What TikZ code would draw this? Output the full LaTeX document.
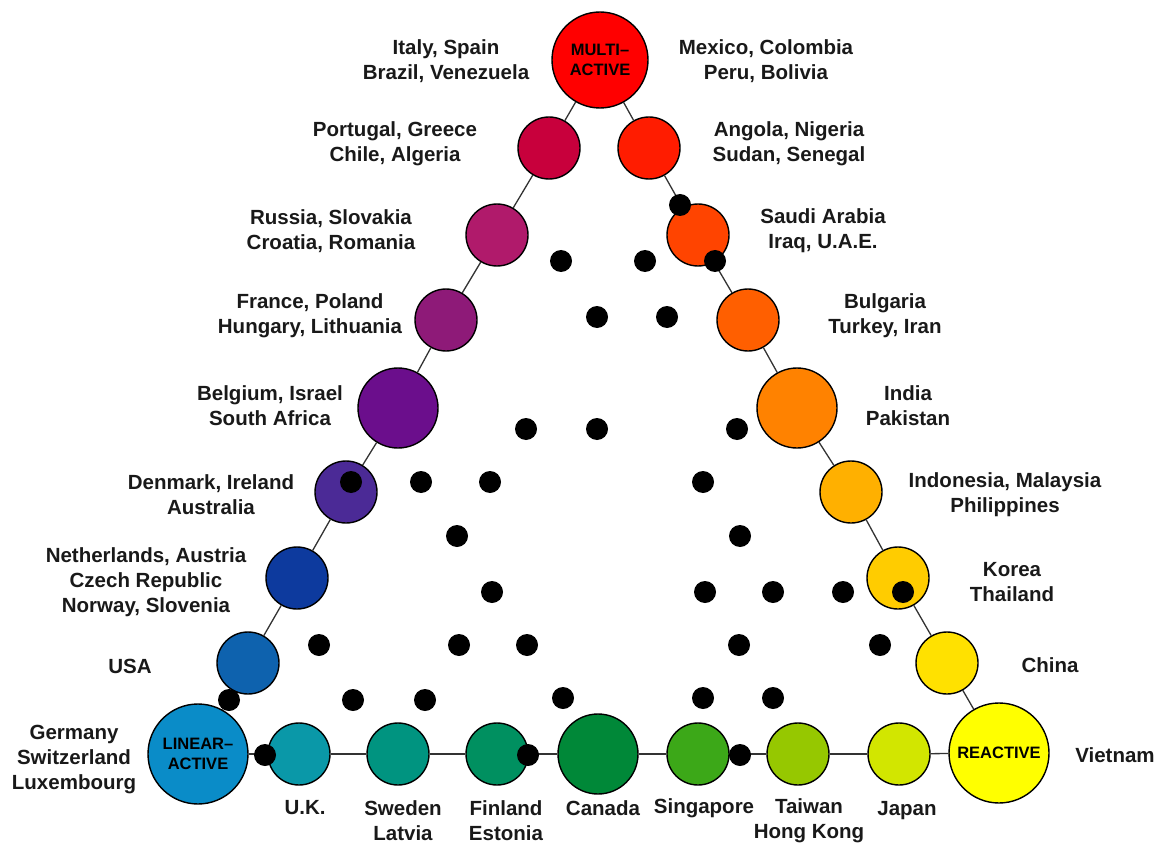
\documentclass[tikz,border=0pt]{standalone}
\usepackage{fontspec}
\setmainfont{Liberation Sans}
\begin{document}
\begin{tikzpicture}[x=1pt,y=-1pt,
  ball/.style={circle,draw=black,line width=1.4pt,inner sep=0pt,minimum size=62pt},
  bigball/.style={ball,minimum size=80pt},
  hub/.style={ball,minimum size=100pt,font=\bfseries\fontsize{16.5}{20}\selectfont,align=center},
  dot/.style={circle,fill=black,inner sep=0pt,minimum size=22pt},
  lab/.style={align=center,font=\bfseries\fontsize{20.5}{25}\selectfont,inner sep=0pt,text=black!90},
  link/.style={line width=1.3pt,draw=black!80}]
\useasboundingbox (0,0) rectangle (1161,850);
% colours
\definecolor{cMulti}{RGB}{255,0,0}
\definecolor{cPor}{RGB}{200,0,60}
\definecolor{cAng}{RGB}{255,28,0}
\definecolor{cRus}{RGB}{176,26,107}
\definecolor{cSau}{RGB}{255,68,0}
\definecolor{cFra}{RGB}{142,26,120}
\definecolor{cBul}{RGB}{255,95,0}
\definecolor{cBel}{RGB}{107,14,140}
\definecolor{cInd}{RGB}{255,130,0}
\definecolor{cDen}{RGB}{75,42,150}
\definecolor{cIdn}{RGB}{255,176,0}
\definecolor{cNet}{RGB}{13,58,158}
\definecolor{cKor}{RGB}{255,204,0}
\definecolor{cUSA}{RGB}{14,98,174}
\definecolor{cChi}{RGB}{255,225,0}
\definecolor{cLin}{RGB}{10,140,200}
\definecolor{cRea}{RGB}{255,255,0}
\definecolor{cUK}{RGB}{10,152,168}
\definecolor{cSwe}{RGB}{0,148,128}
\definecolor{cFin}{RGB}{0,144,96}
\definecolor{cCan}{RGB}{0,136,56}
\definecolor{cSin}{RGB}{60,168,24}
\definecolor{cTai}{RGB}{150,200,0}
\definecolor{cJap}{RGB}{210,230,0}
% circles
\node[hub,fill=cMulti,minimum size=96pt] (multi) at (600,60) {MULTI--\\ACTIVE};
\node[ball,fill=cPor] (por) at (549,148) {};
\node[ball,fill=cRus] (rus) at (497,235) {};
\node[ball,fill=cFra] (fra) at (446,320) {};
\node[bigball,fill=cBel] (bel) at (398,408) {};
\node[ball,fill=cDen] (den) at (346,492) {};
\node[ball,fill=cNet] (net) at (297,578) {};
\node[ball,fill=cUSA] (usa) at (248,663) {};
\node[hub,fill=cLin] (lin) at (198,754) {LINEAR--\\ACTIVE};
\node[ball,fill=cAng] (ang) at (649,148) {};
\node[ball,fill=cSau] (sau) at (698,235) {};
\node[ball,fill=cBul] (bul) at (748,320) {};
\node[bigball,fill=cInd] (ind) at (797,408) {};
\node[ball,fill=cIdn] (idn) at (851,492) {};
\node[ball,fill=cKor] (kor) at (898,578) {};
\node[ball,fill=cChi] (chi) at (947,663) {};
\node[hub,fill=cRea] (rea) at (999,753) {REACTIVE};
\node[ball,fill=cUK] (uk) at (299,754) {};
\node[ball,fill=cSwe] (swe) at (398,754) {};
\node[ball,fill=cFin] (fin) at (497,754) {};
\node[bigball,fill=cCan] (can) at (598,754) {};
\node[ball,fill=cSin] (sin) at (698,754) {};
\node[ball,fill=cTai] (tai) at (798,754) {};
\node[ball,fill=cJap] (jap) at (899,754) {};
% connectors
\foreach \a/\b in {multi/por,por/rus,rus/fra,fra/bel,bel/den,den/net,net/usa,usa/lin,
  multi/ang,ang/sau,sau/bul,bul/ind,ind/idn,idn/kor,kor/chi,chi/rea,
  lin/uk,uk/swe,swe/fin,fin/can,can/sin,sin/tai,tai/jap,jap/rea}
  \draw[link] (\a) -- (\b);
% labels
\node[lab] (l1) at (446,61) {Italy, Spain\\Brazil, Venezuela};
\node[lab] (r1) at (766,61) {Mexico, Colombia\\Peru, Bolivia};
\node[lab] (l2) at (395,144) {Portugal, Greece\\Chile, Algeria};
\node[lab] (r2) at (789,144) {Angola, Nigeria\\Sudan, Senegal};
\node[lab] (l3) at (331,231) {Russia, Slovakia\\Croatia, Romania};
\node[lab] (r3) at (823,231) {Saudi Arabia\\Iraq, U.A.E.};
\node[lab] (l4) at (310,316) {France, Poland\\Hungary, Lithuania};
\node[lab] (r4) at (885,316) {Bulgaria\\Turkey, Iran};
\node[lab] (l5) at (270,406) {Belgium, Israel\\South Africa};
\node[lab] (r5) at (908,406) {India\\Pakistan};
\node[lab] (l6) at (211,495) {Denmark, Ireland\\Australia};
\node[lab] (r6) at (1005,495) {Indonesia, Malaysia\\Philippines};
\node[lab] (l7) at (146,582) {Netherlands, Austria\\Czech Republic\\Norway, Slovenia};
\node[lab] (r7) at (1012,582) {Korea\\Thailand};
\node[lab] (l8) at (130,666) {USA};
\node[lab] (r8) at (1050,665) {China};
\node[lab] (l9) at (74,760) {Germany\\Switzerland\\Luxembourg};
\node[lab] (r9) at (1115,755) {Vietnam};
\node[lab] (b1) at (305,808) {U.K.};
\node[lab] (b2) at (403,821) {Sweden\\Latvia};
\node[lab] (b3) at (506,821) {Finland\\Estonia};
\node[lab] (b4) at (603,808) {Canada};
\node[lab] (b5) at (704,808) {Singapore};
\node[lab] (b6) at (809,821) {Taiwan\\Hong Kong};
\node[lab] (b7) at (907,811) {Japan};
% black dots
\foreach \x/\y [count=\i] in {680/205,715/261,561/261,645/261,597/317,667/317,
  526/429,597/429,737/429,351/482,421/482,490/482,703/482,457/536,740/536,
  492/592,705/592,773/592,843/592,903/592,319/645,459/645,527/645,739/645,880/645,
  229/700,353/700,425/700,563/698,703/698,773/698,265/755,528/755,740/755}
  \node[dot] (d\i) at (\x,\y) {};
\end{tikzpicture}
\end{document}
